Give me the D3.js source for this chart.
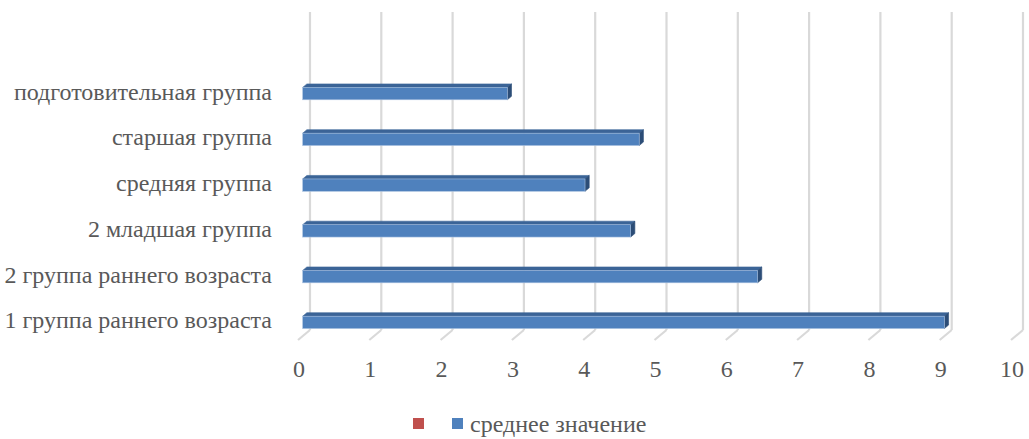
<!DOCTYPE html>
<html><head><meta charset="utf-8">
<script src="https://cdn.jsdelivr.net/npm/d3@7"></script>
</head><body style="margin:0">
<script>
const categories = ["подготовительная группа","старшая группа","средняя группа","2 младшая группа","2 группа раннего возраста","1 группа раннего возраста"];
const values = [2.87, 4.72, 3.96, 4.6, 6.38, 9.0];
const ticks = [0,1,2,3,4,5,6,7,8,9,10];
const seriesName = "среднее значение";

const W = 1029, H = 439;
const svg = d3.select("body").append("svg").attr("width", W).attr("height", H).style("display", "block");
const textCol = "#595959";
const FONT = '"Liberation Serif"';

const depthDX = 12, depthDY = -10;
const x = d3.scaleLinear().domain([0,10]).range([298, 1011]);
const y = d3.scaleBand().domain(categories).range([74.4, 349.4]).paddingInner(0.73).paddingOuter(0.37);
const P = (v, yy, z) => [x(v) + depthDX*z, yy + depthDY*z];

const floorY = 340, topY = 22;
const g = svg.append("g");
ticks.forEach(t => {
  const b0 = P(t, floorY, 1), b1 = P(t, topY, 1);
  g.append("line").attr("x1", b0[0]).attr("y1", b1[1]).attr("x2", b0[0]).attr("y2", b0[1])
    .attr("stroke", "#d9d9d9").attr("stroke-width", 2.2);
  const f = P(t, floorY, 0);
  g.append("line").attr("x1", b0[0]).attr("y1", b0[1]).attr("x2", f[0]).attr("y2", f[1])
    .attr("stroke", "#d9d9d9").attr("stroke-width", 2.2);
});

const z0 = 0.39, z1 = 0.74;
const bh = y.bandwidth();
const bars = svg.append("g");
const poly = pts => pts.map(p => p.join(",")).join(" ");
categories.forEach((c, i) => {
  const v = values[i];
  const ff = P(0, y(c), z0), fr = P(v, y(c), z0);
  const fy0 = ff[1];
  bars.append("polygon").attr("points", poly([P(0,y(c),z0), P(v,y(c),z0), P(v,y(c),z1), P(0,y(c),z1)]))
    .attr("fill", "#3b6497").attr("stroke", "#3b6497").attr("stroke-width", 0.6);
  bars.append("polygon").attr("points", poly([P(v,y(c),z0), P(v,y(c)+bh,z0), P(v,y(c)+bh,z1), P(v,y(c),z1)]))
    .attr("fill", "#2c4d77").attr("stroke", "#2c4d77").attr("stroke-width", 0.6);
  bars.append("rect").attr("x", ff[0]).attr("y", fy0).attr("width", fr[0]-ff[0]).attr("height", bh)
    .attr("fill", "#4f81bd").attr("stroke", "#a9c1e0").attr("stroke-width", 0.6);
});

svg.append("g").selectAll("text").data(categories).join("text")
  .style("font-family", FONT)
  .attr("x", 272).attr("y", c => y(c) - 10*z0 + bh/2 + 6).attr("text-anchor", "end")
  .attr("font-size", 24).attr("fill", textCol).text(c => c);

svg.append("g").selectAll("text").data(ticks).join("text")
  .style("font-family", FONT)
  .attr("x", d => x(d) + 1).attr("y", 377).attr("text-anchor", "middle")
  .attr("font-size", 24).attr("fill", textCol).text(d => d);

svg.append("rect").attr("x", 413).attr("y", 418).attr("width", 11).attr("height", 11).attr("fill", "#c0504d");
svg.append("rect").attr("x", 452).attr("y", 418).attr("width", 11).attr("height", 11).attr("fill", "#4f81bd");
svg.append("text").style("font-family", FONT).attr("x", 470).attr("y", 432).attr("font-size", 24)
  .attr("fill", textCol).text(seriesName);
</script>
</body></html>
